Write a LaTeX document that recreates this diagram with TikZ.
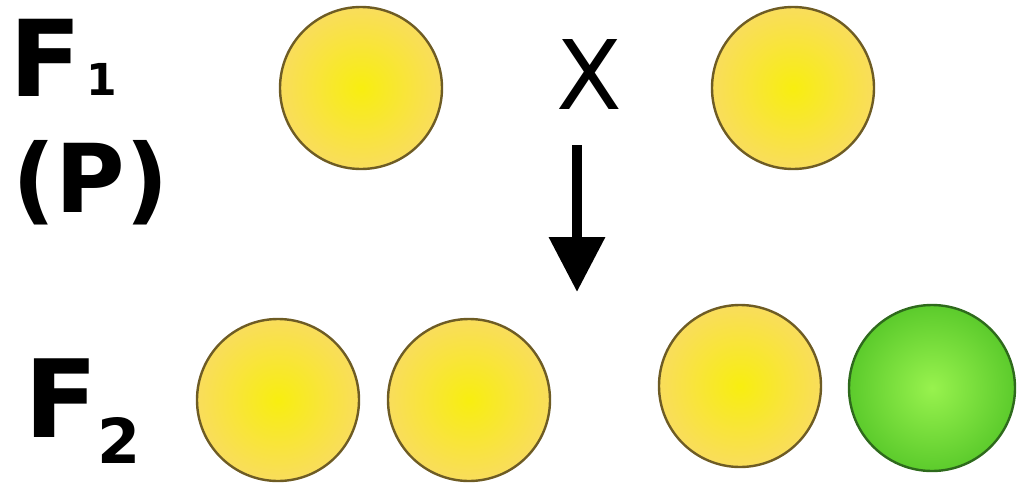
\documentclass[tikz,border=0pt]{standalone}
\usepackage{fontspec}
\setmainfont{DejaVu Sans}
\usepackage{tikz}
\usetikzlibrary{arrows.meta,positioning}
\definecolor{peaEdge}{HTML}{F9DD5C}
\definecolor{peaCore}{HTML}{F8EE10}
\definecolor{peaLine}{HTML}{6E5C24}
\definecolor{grnEdge}{HTML}{5CCB2C}
\definecolor{grnCore}{HTML}{98F24E}
\definecolor{grnLine}{HTML}{2E6A1C}

\begin{document}
\begin{tikzpicture}[x=1pt, y=-1pt,
  lbl/.style={inner sep=0pt, anchor=base west, font=\bfseries\fontsize{106}{110}\selectfont},
  sub/.style={inner sep=0pt, anchor=base west, font=\bfseries\fontsize{44}{48}\selectfont},
  pea/.style={circle, draw=peaLine, line width=2.4pt, inner sep=0pt,
    minimum size=162pt, inner color=peaCore, outer color=peaEdge},
  greenpea/.style={pea, draw=grnLine, inner color=grnCore, outer color=grnEdge, minimum size=166pt}]
\useasboundingbox (0,0) rectangle (1017,482);
% generation labels
\node[lbl] (f1) at (9,96) {F};
\node[sub] (f1sub) at (86,95) {1};
\node[lbl, font=\bfseries\fontsize{95}{100}\selectfont] (par) at (12,212) {(P)};
\node[lbl, font=\bfseries\fontsize{108}{112}\selectfont] (f2) at (24,437) {F};
\node[sub, font=\bfseries\fontsize{62}{66}\selectfont] (f2sub) at (97,463) {2};
% parents crossed
\node[pea] (p1) at (361,88) {};
\node[pea] (p2) at (793,88) {};
\node[inner sep=0pt, font=\fontsize{96}{100}\selectfont] (cross) at (589,75) {X};
\coordinate (arrtop) at (577,145);
\coordinate (arrbot) at (577,292);
\draw[line width=10pt, -{Triangle[width=54pt,length=55pt]}] (arrtop) -- (arrbot);
% offspring
\node[pea] (o1) at (278,400) {};
\node[pea] (o2) at (469,400) {};
\node[pea] (o3) at (740,386) {};
\node[greenpea] (o4) at (932,388) {};
\end{tikzpicture}
\end{document}
